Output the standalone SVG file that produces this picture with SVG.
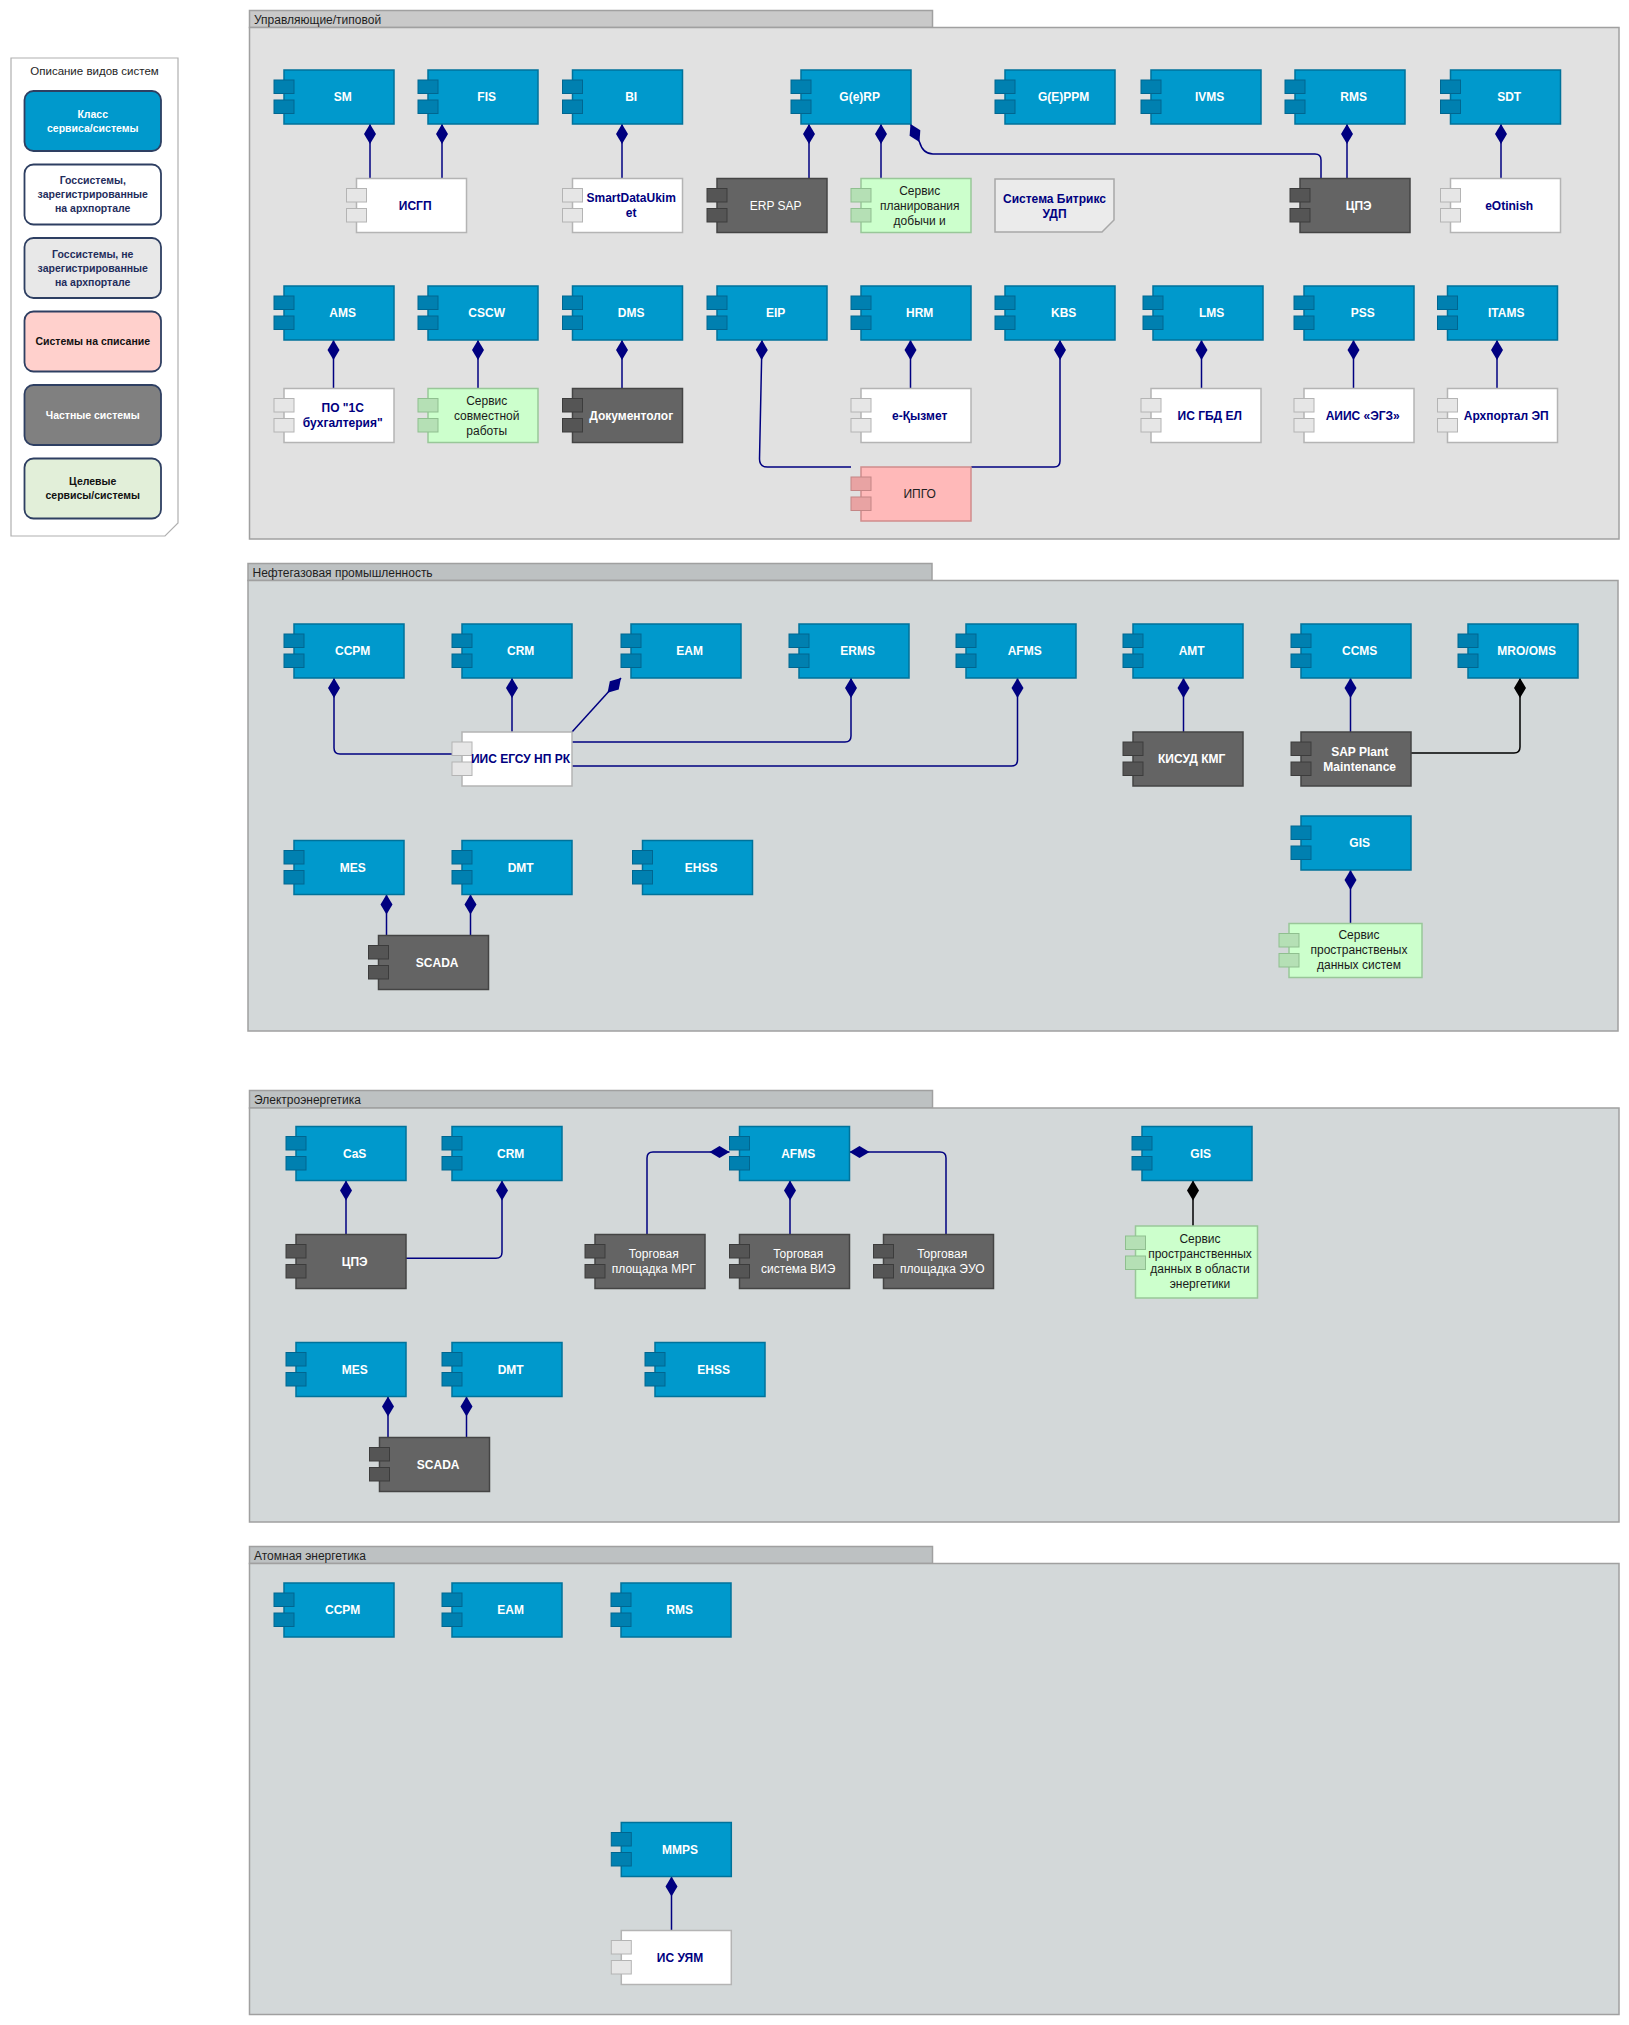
<svg xmlns="http://www.w3.org/2000/svg" width="1629" height="2025" viewBox="0 0 1629 2025">
<defs>
<style>
text{font-family:"Liberation Sans",Arial,sans-serif;}
.bg{fill:#ffffff}
.ptab{fill:#bdc1c2;stroke:#a0a0a0;stroke-width:1.5}
.pbody{fill:#d3d8d9;stroke:#a0a0a0;stroke-width:1.5}
.ptab1{fill:#c9c9c9;stroke:#a0a0a0;stroke-width:1.5}
.pbody1{fill:#e1e1e1;stroke:#a0a0a0;stroke-width:1.5}
.ptitle{font-size:12px;fill:#1e1e1e}
.t{font-size:12px;text-anchor:middle}
.b{font-weight:bold}
.blue .box{fill:#0099cc;stroke:#00729a;stroke-width:1.5}
.blue .tab{fill:#0080b0;stroke:#006690;stroke-width:1}
.blue text{fill:#ffffff;font-weight:bold}
.white .box{fill:#ffffff;stroke:#b4b4b4;stroke-width:1.5}
.white .tab{fill:#e6e6e6;stroke:#b4b4b4;stroke-width:1}
.white text{fill:#000080;font-weight:bold}
.dark .box{fill:#646464;stroke:#444444;stroke-width:1.5}
.dark .tab{fill:#555555;stroke:#3c3c3c;stroke-width:1}
.dark text{fill:#ffffff}
.green .box{fill:#ccffcc;stroke:#99c799;stroke-width:1.5}
.green .tab{fill:#b5e0b5;stroke:#8fbf8f;stroke-width:1}
.green text{fill:#1a1a1a}
.pink .box{fill:#ffb9b9;stroke:#d08c8c;stroke-width:1.5}
.pink .tab{fill:#e8a3a3;stroke:#c48686;stroke-width:1}
.pink text{fill:#222222}
.note .box{fill:#ebebeb;stroke:#a8a8a8;stroke-width:1.5}
.note text{fill:#000080;font-weight:bold}
.conn{fill:none;stroke:#000080;stroke-width:1.5;marker-start:url(#dia)}
.connk{fill:none;stroke:#000000;stroke-width:1.5;marker-start:url(#diak)}
.leg{stroke:#2e3f62;stroke-width:1.8}
.lt{font-size:10.5px;font-weight:bold;text-anchor:middle}
</style>
<marker id="dia" markerUnits="userSpaceOnUse" orient="auto" refX="0" refY="0" markerWidth="22" markerHeight="14" viewBox="0 -7 22 14" overflow="visible">
<path d="M0,0 L10,-6 L20,0 L10,6 Z" fill="#000080"/>
</marker>
<marker id="diak" markerUnits="userSpaceOnUse" orient="auto" refX="0" refY="0" markerWidth="22" markerHeight="14" viewBox="0 -7 22 14" overflow="visible">
<path d="M0,0 L10,-6 L20,0 L10,6 Z" fill="#000000"/>
</marker>
</defs>
<rect class="bg" x="0" y="0" width="1629" height="2025"/>

<!-- Legend -->
<g id="legend">
<path d="M11 58 H178 V523 L165 536 H11 Z" fill="#ffffff" stroke="#b0b0b0" stroke-width="1.2"/>
<text x="94.5" y="75" font-size="11.5px" text-anchor="middle" fill="#1e1e1e">Описание видов систем</text>
<rect class="leg" x="24.5" y="91" width="136.5" height="60" rx="9" fill="#0099cc"/>
<text class="lt" fill="#ffffff"><tspan x="92.75" y="117.8">Класс</tspan><tspan x="92.75" y="131.8">сервиса/системы</tspan></text>
<rect class="leg" x="24.5" y="164.5" width="136.5" height="60" rx="9" fill="#ffffff"/>
<text class="lt" fill="#1f2d5c"><tspan x="92.75" y="184.3">Госсистемы,</tspan><tspan x="92.75" y="198.3">зарегистрированные</tspan><tspan x="92.75" y="212.3">на архпортале</tspan></text>
<rect class="leg" x="24.5" y="238" width="136.5" height="60" rx="9" fill="#e8e8e8"/>
<text class="lt" fill="#1f2d5c"><tspan x="92.75" y="257.8">Госсистемы, не</tspan><tspan x="92.75" y="271.8">зарегистрированные</tspan><tspan x="92.75" y="285.8">на архпортале</tspan></text>
<rect class="leg" x="24.5" y="311.5" width="136.5" height="60" rx="9" fill="#ffd0cc"/>
<text class="lt" fill="#111111" x="92.75" y="345.3">Системы на списание</text>
<rect class="leg" x="24.5" y="385" width="136.5" height="60" rx="9" fill="#808080"/>
<text class="lt" fill="#ffffff" x="92.75" y="418.8">Частные системы</text>
<rect class="leg" x="24.5" y="458.5" width="136.5" height="60" rx="9" fill="#e2efd9"/>
<text class="lt" fill="#111111"><tspan x="92.75" y="485.3">Целевые</tspan><tspan x="92.75" y="499.3">сервисы/системы</tspan></text>
</g>

<!-- Panels -->
<g id="panel-upr">
<rect class="ptab1" x="249.5" y="10.5" width="683" height="17"/>
<rect class="pbody1" x="249.5" y="27.5" width="1369.5" height="511.5"/>
<text class="ptitle" x="254" y="23.5">Управляющие/типовой</text>
</g>
<g id="panel-oil">
<rect class="ptab" x="248" y="563.5" width="684" height="17"/>
<rect class="pbody" x="248" y="580.5" width="1370" height="450.5"/>
<text class="ptitle" x="252.5" y="576.5">Нефтегазовая промышленность</text>
</g>
<g id="panel-el">
<rect class="ptab" x="249.5" y="1090.5" width="683" height="17.5"/>
<rect class="pbody" x="249.5" y="1108" width="1369.5" height="414"/>
<text class="ptitle" x="254" y="1104">Электроэнергетика</text>
</g>
<g id="panel-at">
<rect class="ptab" x="249.5" y="1546.5" width="683" height="17"/>
<rect class="pbody" x="249.5" y="1563.5" width="1369.5" height="451"/>
<text class="ptitle" x="254" y="1559.5">Атомная энергетика</text>
</g>

<!-- Connectors -->
<g id="connectors">
<path class="conn" d="M370 124 V178.5"/>
<path class="conn" d="M442 124 V178.5"/>
<path class="conn" d="M622 124 V178.5"/>
<path class="conn" d="M809 124 V178.5"/>
<path class="conn" d="M881 124 V178.5"/>
<path class="conn" d="M910.5 124 L919.5 142 Q923 154 933 154 H1315 Q1321 154 1321 160 V178.5"/>
<path class="conn" d="M1347 124 V178.5"/>
<path class="conn" d="M1501 124 V178.5"/>
<path class="conn" d="M333.5 340 V388.5"/>
<path class="conn" d="M478 340 V388.5"/>
<path class="conn" d="M622 340 V388.5"/>
<path class="conn" d="M762 340 L759.5 459 Q759.5 467 767.5 467 H851"/>
<path class="conn" d="M910.5 340 V388.5"/>
<path class="conn" d="M1060 340 V461 Q1060 467 1054 467 H971"/>
<path class="conn" d="M1201.5 340 V388.5"/>
<path class="conn" d="M1353.5 340 V388.5"/>
<path class="conn" d="M1497 340 V388.5"/>

<path class="conn" d="M334 678 V748 Q334 754 340 754 H452"/>
<path class="conn" d="M512 678 V732"/>
<path class="conn" d="M621 678 L572 732"/>
<path class="conn" d="M851 678 V736 Q851 742 845 742 H572"/>
<path class="conn" d="M1017.5 678 V760 Q1017.5 766 1011.5 766 H572"/>
<path class="conn" d="M1183.5 678 V732"/>
<path class="conn" d="M1350.5 678 V732"/>
<path class="connk" d="M1520 678 V747 Q1520 753 1514 753 H1411"/>
<path class="conn" d="M1350.5 870 V923.5"/>
<path class="conn" d="M386.5 894.5 V935.5"/>
<path class="conn" d="M470.5 894.5 V935.5"/>

<path class="conn" d="M346 1180.5 V1234.5"/>
<path class="conn" d="M502 1180.5 V1252.3 Q502 1258.3 496 1258.3 H406"/>
<path class="conn" d="M729.5 1152 H653 Q647 1152 647 1158 V1234.5"/>
<path class="conn" d="M849.5 1152 H940 Q946 1152 946 1158 V1234.5"/>
<path class="conn" d="M790 1180.5 V1234.5"/>
<path class="connk" d="M1193 1180.5 V1226"/>
<path class="conn" d="M388 1396.5 V1437.5"/>
<path class="conn" d="M466.5 1396.5 V1437.5"/>

<path class="conn" d="M671.5 1876.5 V1930.5"/>
</g>

<!-- ===== Управляющие/типовой ===== -->
<g id="u-sm" class="blue"><rect class="box" x="284" y="70" width="110" height="54"/><rect class="tab" x="274" y="80" width="20" height="13.5"/><rect class="tab" x="274" y="100" width="20" height="13.5"/><text class="t" x="342.7" y="101">SM</text></g>
<g id="u-fis" class="blue"><rect class="box" x="428" y="70" width="110" height="54"/><rect class="tab" x="418" y="80" width="20" height="13.5"/><rect class="tab" x="418" y="100" width="20" height="13.5"/><text class="t" x="486.7" y="101">FIS</text></g>
<g id="u-bi" class="blue"><rect class="box" x="572.5" y="70" width="110" height="54"/><rect class="tab" x="562.5" y="80" width="20" height="13.5"/><rect class="tab" x="562.5" y="100" width="20" height="13.5"/><text class="t" x="631.2" y="101">BI</text></g>
<g id="u-gerp" class="blue"><rect class="box" x="801" y="70" width="110" height="54"/><rect class="tab" x="791" y="80" width="20" height="13.5"/><rect class="tab" x="791" y="100" width="20" height="13.5"/><text class="t" x="859.7" y="101">G(e)RP</text></g>
<g id="u-geppm" class="blue"><rect class="box" x="1005" y="70" width="110" height="54"/><rect class="tab" x="995" y="80" width="20" height="13.5"/><rect class="tab" x="995" y="100" width="20" height="13.5"/><text class="t" x="1063.7" y="101">G(E)PPM</text></g>
<g id="u-ivms" class="blue"><rect class="box" x="1151" y="70" width="110" height="54"/><rect class="tab" x="1141" y="80" width="20" height="13.5"/><rect class="tab" x="1141" y="100" width="20" height="13.5"/><text class="t" x="1209.7" y="101">IVMS</text></g>
<g id="u-rms" class="blue"><rect class="box" x="1295" y="70" width="110" height="54"/><rect class="tab" x="1285" y="80" width="20" height="13.5"/><rect class="tab" x="1285" y="100" width="20" height="13.5"/><text class="t" x="1353.7" y="101">RMS</text></g>
<g id="u-sdt" class="blue"><rect class="box" x="1450.5" y="70" width="110" height="54"/><rect class="tab" x="1440.5" y="80" width="20" height="13.5"/><rect class="tab" x="1440.5" y="100" width="20" height="13.5"/><text class="t" x="1509.2" y="101">SDT</text></g>

<g id="u-isgp" class="white"><rect class="box" x="356.5" y="178.5" width="110" height="54"/><rect class="tab" x="346.5" y="188.5" width="20" height="13.5"/><rect class="tab" x="346.5" y="208.5" width="20" height="13.5"/><text class="t" x="415.2" y="209.5">ИСГП</text></g>
<g id="u-sdu" class="white"><rect class="box" x="572.5" y="178.5" width="110" height="54"/><rect class="tab" x="562.5" y="188.5" width="20" height="13.5"/><rect class="tab" x="562.5" y="208.5" width="20" height="13.5"/><text class="t"><tspan x="631.2" y="202">SmartDataUkim</tspan><tspan x="631.2" y="217">et</tspan></text></g>
<g id="u-erpsap" class="dark"><rect class="box" x="717" y="178.5" width="110" height="54"/><rect class="tab" x="707" y="188.5" width="20" height="13.5"/><rect class="tab" x="707" y="208.5" width="20" height="13.5"/><text class="t" x="775.7" y="209.5">ERP SAP</text></g>
<g id="u-splan" class="green"><rect class="box" x="861" y="178.5" width="110" height="54"/><rect class="tab" x="851" y="188.5" width="20" height="13.5"/><rect class="tab" x="851" y="208.5" width="20" height="13.5"/><text class="t"><tspan x="919.7" y="194.5">Сервис</tspan><tspan x="919.7" y="209.5">планирования</tspan><tspan x="919.7" y="224.5">добычи и</tspan></text></g>
<g id="u-bitrix" class="note"><path class="box" d="M995 179 H1114 V220 L1102 232 H995 Z"/><text class="t"><tspan x="1054.5" y="202.5">Система Битрикс</tspan><tspan x="1054.5" y="217.5">УДП</tspan></text></g>
<g id="u-cpe" class="dark"><rect class="box" x="1300" y="178.5" width="110" height="54"/><rect class="tab" x="1290" y="188.5" width="20" height="13.5"/><rect class="tab" x="1290" y="208.5" width="20" height="13.5"/><text class="t b" x="1358.7" y="209.5">ЦПЭ</text></g>
<g id="u-eotinish" class="white"><rect class="box" x="1450.5" y="178.5" width="110" height="54"/><rect class="tab" x="1440.5" y="188.5" width="20" height="13.5"/><rect class="tab" x="1440.5" y="208.5" width="20" height="13.5"/><text class="t" x="1509.2" y="209.5">eOtinish</text></g>

<g id="u-ams" class="blue"><rect class="box" x="284" y="286" width="110" height="54"/><rect class="tab" x="274" y="296" width="20" height="13.5"/><rect class="tab" x="274" y="316" width="20" height="13.5"/><text class="t" x="342.7" y="317">AMS</text></g>
<g id="u-cscw" class="blue"><rect class="box" x="428" y="286" width="110" height="54"/><rect class="tab" x="418" y="296" width="20" height="13.5"/><rect class="tab" x="418" y="316" width="20" height="13.5"/><text class="t" x="486.7" y="317">CSCW</text></g>
<g id="u-dms" class="blue"><rect class="box" x="572.5" y="286" width="110" height="54"/><rect class="tab" x="562.5" y="296" width="20" height="13.5"/><rect class="tab" x="562.5" y="316" width="20" height="13.5"/><text class="t" x="631.2" y="317">DMS</text></g>
<g id="u-eip" class="blue"><rect class="box" x="717" y="286" width="110" height="54"/><rect class="tab" x="707" y="296" width="20" height="13.5"/><rect class="tab" x="707" y="316" width="20" height="13.5"/><text class="t" x="775.7" y="317">EIP</text></g>
<g id="u-hrm" class="blue"><rect class="box" x="861" y="286" width="110" height="54"/><rect class="tab" x="851" y="296" width="20" height="13.5"/><rect class="tab" x="851" y="316" width="20" height="13.5"/><text class="t" x="919.7" y="317">HRM</text></g>
<g id="u-kbs" class="blue"><rect class="box" x="1005" y="286" width="110" height="54"/><rect class="tab" x="995" y="296" width="20" height="13.5"/><rect class="tab" x="995" y="316" width="20" height="13.5"/><text class="t" x="1063.7" y="317">KBS</text></g>
<g id="u-lms" class="blue"><rect class="box" x="1153" y="286" width="110" height="54"/><rect class="tab" x="1143" y="296" width="20" height="13.5"/><rect class="tab" x="1143" y="316" width="20" height="13.5"/><text class="t" x="1211.7" y="317">LMS</text></g>
<g id="u-pss" class="blue"><rect class="box" x="1304" y="286" width="110" height="54"/><rect class="tab" x="1294" y="296" width="20" height="13.5"/><rect class="tab" x="1294" y="316" width="20" height="13.5"/><text class="t" x="1362.7" y="317">PSS</text></g>
<g id="u-itams" class="blue"><rect class="box" x="1447.5" y="286" width="110" height="54"/><rect class="tab" x="1437.5" y="296" width="20" height="13.5"/><rect class="tab" x="1437.5" y="316" width="20" height="13.5"/><text class="t" x="1506.2" y="317">ITAMS</text></g>

<g id="u-1c" class="white"><rect class="box" x="284" y="388.5" width="110" height="54"/><rect class="tab" x="274" y="398.5" width="20" height="13.5"/><rect class="tab" x="274" y="418.5" width="20" height="13.5"/><text class="t"><tspan x="342.7" y="412">ПО "1С</tspan><tspan x="342.7" y="427">бухгалтерия"</tspan></text></g>
<g id="u-ssr" class="green"><rect class="box" x="428" y="388.5" width="110" height="54"/><rect class="tab" x="418" y="398.5" width="20" height="13.5"/><rect class="tab" x="418" y="418.5" width="20" height="13.5"/><text class="t"><tspan x="486.7" y="404.5">Сервис</tspan><tspan x="486.7" y="419.5">совместной</tspan><tspan x="486.7" y="434.5">работы</tspan></text></g>
<g id="u-doc" class="dark"><rect class="box" x="572.5" y="388.5" width="110" height="54"/><rect class="tab" x="562.5" y="398.5" width="20" height="13.5"/><rect class="tab" x="562.5" y="418.5" width="20" height="13.5"/><text class="t b" x="631.2" y="419.5">Документолог</text></g>
<g id="u-ekyzmet" class="white"><rect class="box" x="861" y="388.5" width="110" height="54"/><rect class="tab" x="851" y="398.5" width="20" height="13.5"/><rect class="tab" x="851" y="418.5" width="20" height="13.5"/><text class="t" x="919.7" y="419.5">e-Қызмет</text></g>
<g id="u-isgbd" class="white"><rect class="box" x="1151" y="388.5" width="110" height="54"/><rect class="tab" x="1141" y="398.5" width="20" height="13.5"/><rect class="tab" x="1141" y="418.5" width="20" height="13.5"/><text class="t" x="1209.7" y="419.5">ИС ГБД ЕЛ</text></g>
<g id="u-aiis" class="white"><rect class="box" x="1304" y="388.5" width="110" height="54"/><rect class="tab" x="1294" y="398.5" width="20" height="13.5"/><rect class="tab" x="1294" y="418.5" width="20" height="13.5"/><text class="t" x="1362.7" y="419.5">АИИС «ЭГЗ»</text></g>
<g id="u-arh" class="white"><rect class="box" x="1447.5" y="388.5" width="110" height="54"/><rect class="tab" x="1437.5" y="398.5" width="20" height="13.5"/><rect class="tab" x="1437.5" y="418.5" width="20" height="13.5"/><text class="t" x="1506.2" y="419.5">Архпортал ЭП</text></g>
<g id="u-ipgo" class="pink"><rect class="box" x="861" y="467" width="110" height="54"/><rect class="tab" x="851" y="477" width="20" height="13.5"/><rect class="tab" x="851" y="497" width="20" height="13.5"/><text class="t" x="919.7" y="498">ИПГО</text></g>

<!-- ===== Нефтегазовая ===== -->
<g id="o-ccpm" class="blue"><rect class="box" x="294" y="624" width="110" height="54"/><rect class="tab" x="284" y="634" width="20" height="13.5"/><rect class="tab" x="284" y="654" width="20" height="13.5"/><text class="t" x="352.7" y="655">CCPM</text></g>
<g id="o-crm" class="blue"><rect class="box" x="462" y="624" width="110" height="54"/><rect class="tab" x="452" y="634" width="20" height="13.5"/><rect class="tab" x="452" y="654" width="20" height="13.5"/><text class="t" x="520.7" y="655">CRM</text></g>
<g id="o-eam" class="blue"><rect class="box" x="631" y="624" width="110" height="54"/><rect class="tab" x="621" y="634" width="20" height="13.5"/><rect class="tab" x="621" y="654" width="20" height="13.5"/><text class="t" x="689.7" y="655">EAM</text></g>
<g id="o-erms" class="blue"><rect class="box" x="799" y="624" width="110" height="54"/><rect class="tab" x="789" y="634" width="20" height="13.5"/><rect class="tab" x="789" y="654" width="20" height="13.5"/><text class="t" x="857.7" y="655">ERMS</text></g>
<g id="o-afms" class="blue"><rect class="box" x="966" y="624" width="110" height="54"/><rect class="tab" x="956" y="634" width="20" height="13.5"/><rect class="tab" x="956" y="654" width="20" height="13.5"/><text class="t" x="1024.7" y="655">AFMS</text></g>
<g id="o-amt" class="blue"><rect class="box" x="1133" y="624" width="110" height="54"/><rect class="tab" x="1123" y="634" width="20" height="13.5"/><rect class="tab" x="1123" y="654" width="20" height="13.5"/><text class="t" x="1191.7" y="655">AMT</text></g>
<g id="o-ccms" class="blue"><rect class="box" x="1301" y="624" width="110" height="54"/><rect class="tab" x="1291" y="634" width="20" height="13.5"/><rect class="tab" x="1291" y="654" width="20" height="13.5"/><text class="t" x="1359.7" y="655">CCMS</text></g>
<g id="o-mro" class="blue"><rect class="box" x="1468" y="624" width="110" height="54"/><rect class="tab" x="1458" y="634" width="20" height="13.5"/><rect class="tab" x="1458" y="654" width="20" height="13.5"/><text class="t" x="1526.7" y="655">MRO/OMS</text></g>

<g id="o-iis" class="white"><rect class="box" x="462" y="732" width="110" height="54"/><rect class="tab" x="452" y="742" width="20" height="13.5"/><rect class="tab" x="452" y="762" width="20" height="13.5"/><text class="t" x="520.5" y="763" font-size="11px">ИИС ЕГСУ НП РК</text></g>
<g id="o-kisud" class="dark"><rect class="box" x="1133" y="732" width="110" height="54"/><rect class="tab" x="1123" y="742" width="20" height="13.5"/><rect class="tab" x="1123" y="762" width="20" height="13.5"/><text class="t b" x="1191.7" y="763">КИСУД КМГ</text></g>
<g id="o-sappm" class="dark"><rect class="box" x="1301" y="732" width="110" height="54"/><rect class="tab" x="1291" y="742" width="20" height="13.5"/><rect class="tab" x="1291" y="762" width="20" height="13.5"/><text class="t b"><tspan x="1359.7" y="755.5">SAP Plant</tspan><tspan x="1359.7" y="770.5">Maintenance</tspan></text></g>
<g id="o-gis" class="blue"><rect class="box" x="1301" y="816" width="110" height="54"/><rect class="tab" x="1291" y="826" width="20" height="13.5"/><rect class="tab" x="1291" y="846" width="20" height="13.5"/><text class="t" x="1359.7" y="847">GIS</text></g>
<g id="o-spd" class="green"><rect class="box" x="1289" y="923.5" width="133" height="54"/><rect class="tab" x="1279" y="933.5" width="20" height="13.5"/><rect class="tab" x="1279" y="953.5" width="20" height="13.5"/><text class="t"><tspan x="1359" y="938.5">Сервис</tspan><tspan x="1359" y="953.5">пространственых</tspan><tspan x="1359" y="968.5">данных систем</tspan></text></g>

<g id="o-mes" class="blue"><rect class="box" x="294" y="840.5" width="110" height="54"/><rect class="tab" x="284" y="850.5" width="20" height="13.5"/><rect class="tab" x="284" y="870.5" width="20" height="13.5"/><text class="t" x="352.7" y="871.5">MES</text></g>
<g id="o-dmt" class="blue"><rect class="box" x="462" y="840.5" width="110" height="54"/><rect class="tab" x="452" y="850.5" width="20" height="13.5"/><rect class="tab" x="452" y="870.5" width="20" height="13.5"/><text class="t" x="520.7" y="871.5">DMT</text></g>
<g id="o-ehss" class="blue"><rect class="box" x="642.5" y="840.5" width="110" height="54"/><rect class="tab" x="632.5" y="850.5" width="20" height="13.5"/><rect class="tab" x="632.5" y="870.5" width="20" height="13.5"/><text class="t" x="701.2" y="871.5">EHSS</text></g>
<g id="o-scada" class="dark"><rect class="box" x="378.5" y="935.5" width="110" height="54"/><rect class="tab" x="368.5" y="945.5" width="20" height="13.5"/><rect class="tab" x="368.5" y="965.5" width="20" height="13.5"/><text class="t b" x="437.2" y="966.5">SCADA</text></g>

<!-- ===== Электроэнергетика ===== -->
<g id="e-cas" class="blue"><rect class="box" x="296" y="1126.5" width="110" height="54"/><rect class="tab" x="286" y="1136.5" width="20" height="13.5"/><rect class="tab" x="286" y="1156.5" width="20" height="13.5"/><text class="t" x="354.7" y="1157.5">CaS</text></g>
<g id="e-crm" class="blue"><rect class="box" x="452" y="1126.5" width="110" height="54"/><rect class="tab" x="442" y="1136.5" width="20" height="13.5"/><rect class="tab" x="442" y="1156.5" width="20" height="13.5"/><text class="t" x="510.7" y="1157.5">CRM</text></g>
<g id="e-afms" class="blue"><rect class="box" x="739.5" y="1126.5" width="110" height="54"/><rect class="tab" x="729.5" y="1136.5" width="20" height="13.5"/><rect class="tab" x="729.5" y="1156.5" width="20" height="13.5"/><text class="t" x="798.2" y="1157.5">AFMS</text></g>
<g id="e-gis" class="blue"><rect class="box" x="1142" y="1126.5" width="110" height="54"/><rect class="tab" x="1132" y="1136.5" width="20" height="13.5"/><rect class="tab" x="1132" y="1156.5" width="20" height="13.5"/><text class="t" x="1200.7" y="1157.5">GIS</text></g>

<g id="e-cpe" class="dark"><rect class="box" x="296" y="1234.5" width="110" height="54"/><rect class="tab" x="286" y="1244.5" width="20" height="13.5"/><rect class="tab" x="286" y="1264.5" width="20" height="13.5"/><text class="t b" x="354.7" y="1265.5">ЦПЭ</text></g>
<g id="e-mrg" class="dark"><rect class="box" x="595" y="1234.5" width="110" height="54"/><rect class="tab" x="585" y="1244.5" width="20" height="13.5"/><rect class="tab" x="585" y="1264.5" width="20" height="13.5"/><text class="t"><tspan x="653.7" y="1258">Торговая</tspan><tspan x="653.7" y="1273">площадка МРГ</tspan></text></g>
<g id="e-vie" class="dark"><rect class="box" x="739.5" y="1234.5" width="110" height="54"/><rect class="tab" x="729.5" y="1244.5" width="20" height="13.5"/><rect class="tab" x="729.5" y="1264.5" width="20" height="13.5"/><text class="t"><tspan x="798.2" y="1258">Торговая</tspan><tspan x="798.2" y="1273">система ВИЭ</tspan></text></g>
<g id="e-euo" class="dark"><rect class="box" x="883.5" y="1234.5" width="110" height="54"/><rect class="tab" x="873.5" y="1244.5" width="20" height="13.5"/><rect class="tab" x="873.5" y="1264.5" width="20" height="13.5"/><text class="t"><tspan x="942.2" y="1258">Торговая</tspan><tspan x="942.2" y="1273">площадка ЭУО</tspan></text></g>
<g id="e-spd" class="green"><rect class="box" x="1135.5" y="1226" width="122" height="72"/><rect class="tab" x="1125.5" y="1236" width="20" height="13.5"/><rect class="tab" x="1125.5" y="1256" width="20" height="13.5"/><text class="t"><tspan x="1200" y="1242.5">Сервис</tspan><tspan x="1200" y="1257.5">пространственных</tspan><tspan x="1200" y="1272.5">данных в области</tspan><tspan x="1200" y="1287.5">энергетики</tspan></text></g>

<g id="e-mes" class="blue"><rect class="box" x="296" y="1342.5" width="110" height="54"/><rect class="tab" x="286" y="1352.5" width="20" height="13.5"/><rect class="tab" x="286" y="1372.5" width="20" height="13.5"/><text class="t" x="354.7" y="1373.5">MES</text></g>
<g id="e-dmt" class="blue"><rect class="box" x="452" y="1342.5" width="110" height="54"/><rect class="tab" x="442" y="1352.5" width="20" height="13.5"/><rect class="tab" x="442" y="1372.5" width="20" height="13.5"/><text class="t" x="510.7" y="1373.5">DMT</text></g>
<g id="e-ehss" class="blue"><rect class="box" x="655" y="1342.5" width="110" height="54"/><rect class="tab" x="645" y="1352.5" width="20" height="13.5"/><rect class="tab" x="645" y="1372.5" width="20" height="13.5"/><text class="t" x="713.7" y="1373.5">EHSS</text></g>
<g id="e-scada" class="dark"><rect class="box" x="379.5" y="1437.5" width="110" height="54"/><rect class="tab" x="369.5" y="1447.5" width="20" height="13.5"/><rect class="tab" x="369.5" y="1467.5" width="20" height="13.5"/><text class="t b" x="438.2" y="1468.5">SCADA</text></g>

<!-- ===== Атомная ===== -->
<g id="a-ccpm" class="blue"><rect class="box" x="284" y="1583" width="110" height="54"/><rect class="tab" x="274" y="1593" width="20" height="13.5"/><rect class="tab" x="274" y="1613" width="20" height="13.5"/><text class="t" x="342.7" y="1614">CCPM</text></g>
<g id="a-eam" class="blue"><rect class="box" x="452" y="1583" width="110" height="54"/><rect class="tab" x="442" y="1593" width="20" height="13.5"/><rect class="tab" x="442" y="1613" width="20" height="13.5"/><text class="t" x="510.7" y="1614">EAM</text></g>
<g id="a-rms" class="blue"><rect class="box" x="621" y="1583" width="110" height="54"/><rect class="tab" x="611" y="1593" width="20" height="13.5"/><rect class="tab" x="611" y="1613" width="20" height="13.5"/><text class="t" x="679.7" y="1614">RMS</text></g>
<g id="a-mmps" class="blue"><rect class="box" x="621.3" y="1822.5" width="110" height="54"/><rect class="tab" x="611.3" y="1832.5" width="20" height="13.5"/><rect class="tab" x="611.3" y="1852.5" width="20" height="13.5"/><text class="t" x="680" y="1853.5">MMPS</text></g>
<g id="a-isuyam" class="white"><rect class="box" x="621.3" y="1930.5" width="110" height="54"/><rect class="tab" x="611.3" y="1940.5" width="20" height="13.5"/><rect class="tab" x="611.3" y="1960.5" width="20" height="13.5"/><text class="t" x="680" y="1961.5">ИС УЯМ</text></g>
</svg>
